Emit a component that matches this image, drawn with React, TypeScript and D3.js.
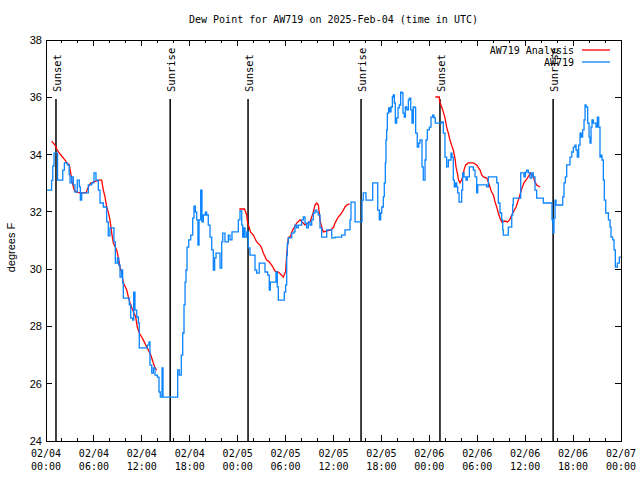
import React from "react";
import * as d3 from "d3";

// ---- data (hours since 2025-02-04 00:00 UTC, degrees F) ----
const observed: [number, number][] = [
  [0, 32.76], [0.6, 32.76], [0.7, 33.1], [0.85, 33.6], [1.0, 34.05], [1.45, 33.11], [1.97, 33.11],
  [2.1, 33.46], [2.3, 33.71], [2.67, 33.64], [2.9, 33.3], [3.01, 33.01], [3.22, 33.22], [3.42, 32.94],
  [3.63, 32.69], [3.92, 33.11], [4.17, 32.87], [4.3, 32.41], [4.47, 32.66], [5.1, 32.66], [5.3, 32.94],
  [5.72, 33.01], [6.01, 33.36], [6.26, 33.11], [6.55, 32.76], [6.76, 32.31], [7.18, 32.17], [7.6, 31.65],
  [7.8, 31.16], [8.01, 31.44], [8.35, 31.44], [8.51, 30.95], [8.68, 30.21], [8.93, 30.39], [9.1, 30.14],
  [9.27, 29.72], [9.48, 29.97], [9.6, 29.52], [9.68, 28.99], [10.18, 28.99], [10.43, 28.75], [10.61, 28.29],
  [10.86, 28.22], [10.98, 29.2], [11.14, 28.57], [11.36, 28.33], [11.56, 28.12], [11.68, 27.25], [12.68, 27.35],
  [12.9, 27.46], [13.02, 26.65], [13.24, 26.37], [13.44, 26.55], [13.65, 26.3], [13.94, 26.23], [14.15, 25.71],
  [14.31, 25.53], [14.53, 26.55], [14.65, 25.53], [16.37, 25.53], [16.49, 26.48], [16.69, 26.3], [16.94, 27.0],
  [17.12, 27.77], [17.28, 28.75], [17.41, 29.55], [17.53, 29.97], [17.66, 30.77], [17.87, 31.02], [18.12, 31.19],
  [18.37, 31.78], [18.53, 32.2], [18.7, 31.99], [18.87, 31.72], [19.03, 30.84], [19.16, 31.72], [19.37, 32.76],
  [19.53, 31.65], [19.7, 31.89], [19.95, 31.99], [20.12, 31.89], [20.32, 31.54], [20.54, 31.12], [20.75, 30.67],
  [20.95, 29.97], [21.12, 30.39], [21.29, 30.56], [21.63, 30.56], [21.79, 30.04], [22.0, 30.95], [22.13, 31.26],
  [22.41, 30.95], [22.83, 31.19], [23.04, 31.02], [23.29, 31.3], [23.88, 31.3], [24.08, 31.72], [24.29, 32.03],
  [24.51, 31.54], [24.63, 31.12], [24.79, 31.44], [24.92, 31.12], [25.13, 31.3], [25.33, 30.74], [25.54, 30.49],
  [26.17, 29.97], [26.38, 29.86], [26.7, 30.21], [27.42, 29.9], [27.76, 29.79], [27.96, 29.27], [28.09, 29.55],
  [28.8, 29.9], [28.96, 29.38], [29.09, 28.92], [29.84, 29.2], [30.01, 29.45], [30.14, 30.49], [30.22, 30.91],
  [30.34, 31.09], [30.77, 31.26], [31.05, 31.3], [31.18, 31.54], [31.39, 31.44], [31.59, 31.54], [32.02, 31.72],
  [32.22, 31.82], [32.43, 31.61], [32.64, 31.44], [32.85, 31.65], [33.06, 31.54], [33.27, 31.72], [33.47, 31.96],
  [33.68, 32.06], [33.9, 31.99], [34.1, 31.89], [34.31, 31.44], [34.52, 31.12], [35.15, 31.37], [35.78, 31.09],
  [36.19, 31.12], [37.03, 31.19], [37.44, 31.37], [38.07, 31.72], [38.19, 32.34], [38.7, 31.65], [39.57, 32.41],
  [39.73, 32.66], [40.07, 32.41], [40.91, 33.01], [41.54, 32.06], [41.74, 31.72], [41.91, 31.96], [42.04, 32.17],
  [42.24, 32.52], [42.36, 33.01], [42.49, 33.71], [42.57, 34.51], [42.66, 34.86], [42.74, 35.45], [42.91, 35.63],
  [43.08, 35.49], [43.2, 35.66], [43.37, 36.01], [43.49, 36.08], [43.62, 35.8], [43.74, 35.1], [43.91, 35.28],
  [44.08, 35.63], [44.24, 35.73], [44.41, 36.18], [44.58, 36.15], [44.7, 35.45], [44.87, 35.31], [44.99, 35.66],
  [45.17, 35.56], [45.37, 35.9], [45.49, 35.97], [45.67, 35.56], [45.83, 35.1], [45.99, 35.66], [46.21, 35.63],
  [46.29, 34.75], [46.49, 34.26], [46.67, 34.4], [46.83, 34.51], [47.08, 33.57], [47.24, 33.11], [47.46, 33.81],
  [47.58, 34.51], [47.75, 34.86], [48.0, 34.96], [48.21, 35.31], [48.42, 35.38], [48.58, 35.28], [48.75, 35.1],
  [49.55, 35.14], [49.75, 34.75], [49.96, 33.91], [50.17, 33.57], [50.38, 33.81], [50.71, 34.05], [50.84, 33.91],
  [51.0, 33.11], [51.13, 32.87], [51.3, 33.01], [51.43, 32.87], [51.55, 32.66], [51.72, 32.34], [52.05, 32.76],
  [52.17, 33.36], [52.34, 33.22], [52.59, 33.11], [52.76, 33.22], [53.01, 33.57], [53.51, 33.46], [53.72, 33.22],
  [53.93, 32.66], [54.06, 32.94], [55.18, 32.87], [55.39, 33.22], [56.44, 33.01], [56.64, 32.31], [56.85, 31.96],
  [57.06, 31.72], [57.19, 31.37], [57.26, 31.19], [57.89, 31.47], [58.32, 31.89], [58.44, 32.24], [58.51, 32.48],
  [59.44, 33.36], [59.85, 33.22], [60.02, 33.39], [60.19, 33.46], [60.39, 33.36], [60.61, 33.18], [60.82, 33.36],
  [61.02, 33.22], [61.23, 32.76], [61.44, 32.48], [62.27, 32.31], [63.36, 31.72], [63.45, 31.61], [63.52, 31.26],
  [63.61, 31.78], [63.74, 32.41], [63.86, 32.24], [64.7, 32.52], [64.86, 33.01], [65.03, 33.22], [65.2, 33.64],
  [65.61, 33.91], [65.83, 34.09], [66.03, 34.26], [66.24, 34.33], [66.37, 34.16], [66.53, 33.91], [66.7, 34.33],
  [66.87, 34.75], [67.03, 34.61], [67.2, 34.86], [67.37, 35.21], [67.5, 35.73], [67.62, 35.66], [67.83, 35.1],
  [68.0, 34.61], [68.12, 34.4], [68.25, 34.96], [68.37, 35.21], [68.53, 35.1], [68.87, 34.96], [69.04, 35.31],
  [69.21, 34.96], [69.37, 33.91], [69.5, 33.98], [69.62, 33.81], [69.79, 33.11], [69.91, 32.41], [70.09, 31.96],
  [70.42, 31.72], [70.63, 31.47], [70.75, 31.12], [70.96, 31.02], [71.13, 30.67], [71.29, 30.07], [71.54, 30.21],
  [71.79, 30.42], [72.0, 30.42],
];

const analysis1: [number, number][] = [
  [0.71, 34.47], [1.13, 34.33], [1.41, 34.16], [1.67, 34.05], [1.97, 33.95], [2.38, 33.81], [2.59, 33.71],
  [2.92, 33.64], [3.09, 33.36], [3.29, 33.01], [3.54, 32.76], [3.84, 32.69], [4.26, 32.66], [5.01, 32.66],
  [5.3, 32.87], [5.6, 33.01], [5.92, 33.04], [6.35, 33.08], [6.67, 33.11], [6.97, 33.11], [7.18, 32.76],
  [7.39, 32.52], [7.6, 32.17], [7.8, 31.99], [8.01, 31.72], [8.23, 31.26], [8.43, 30.91], [8.85, 30.67],
  [9.05, 30.42], [9.27, 30.07], [9.48, 29.86], [9.68, 29.52], [10.11, 29.27], [10.31, 29.03], [10.52, 28.82],
  [10.86, 28.57], [11.23, 28.33], [11.43, 27.98], [11.68, 27.77], [11.98, 27.63], [12.18, 27.53], [12.61, 27.28],
  [13.02, 27.07], [13.24, 26.9], [13.44, 26.72], [13.65, 26.55], [13.86, 26.48],
];
const analysis2: [number, number][] = [
  [24.2, 32.1], [24.85, 32.1], [25.13, 31.89], [25.25, 31.61], [25.46, 31.44], [25.6, 31.3], [25.96, 31.19],
  [26.38, 30.95], [26.8, 30.84], [27.0, 30.74], [27.21, 30.56], [27.63, 30.32], [27.96, 30.25], [28.26, 30.14],
  [28.47, 30.04], [28.68, 29.93], [29.09, 29.9], [29.51, 29.79], [29.72, 29.72], [30.01, 29.93], [30.14, 30.49],
  [30.34, 31.09], [30.64, 31.16], [30.77, 31.3], [31.05, 31.44], [31.39, 31.61], [31.8, 31.72], [32.43, 31.54],
  [33.06, 31.65], [33.27, 31.82], [33.47, 31.99], [33.68, 32.24], [33.9, 32.31], [34.1, 32.24], [34.22, 31.96],
  [34.31, 31.72], [34.52, 31.47], [34.73, 31.3], [35.65, 31.37], [36.02, 31.47], [36.19, 31.61], [36.4, 31.72],
  [36.6, 31.82], [36.82, 31.89], [37.03, 31.96], [37.23, 32.06], [37.44, 32.17], [37.65, 32.24], [37.86, 32.27],
  [38.02, 32.27],
];
const analysis3: [number, number][] = [
  [48.75, 36.01], [49.25, 36.01], [49.3, 35.84], [49.55, 35.66], [49.75, 35.49], [49.96, 35.28], [50.17, 34.96],
  [50.38, 34.75], [50.59, 34.51], [50.79, 34.33], [51.0, 34.16], [51.21, 33.88], [51.34, 33.57], [51.5, 33.36],
  [51.67, 33.11], [51.84, 33.01], [52.05, 33.11], [52.25, 33.29], [52.34, 33.46], [52.55, 33.64], [52.88, 33.71],
  [53.51, 33.71], [53.93, 33.64], [54.35, 33.46], [54.56, 33.29], [54.77, 33.22], [55.18, 33.18], [55.39, 33.04],
  [55.59, 32.87], [55.8, 32.69], [56.02, 32.59], [56.23, 32.34], [56.44, 32.17], [56.64, 31.96], [56.85, 31.78],
  [57.06, 31.65], [57.47, 31.68], [57.76, 31.65], [58.05, 31.72], [58.44, 31.96], [58.86, 32.17], [59.27, 32.52],
  [59.6, 32.83], [59.85, 33.01], [60.27, 33.18], [60.69, 33.36], [61.02, 33.22], [61.23, 33.04], [61.44, 32.94],
  [61.86, 32.87],
];
const analysisSegments = [analysis1, analysis2, analysis3];

const sunEventTimes = [1.25, 15.55, 25.3, 39.45, 49.33, 63.5];
const sunEventLabels = ["Sunset", "Sunrise", "Sunset", "Sunrise", "Sunset", "Sunrise"];

const xMajorTicks = [0, 6, 12, 18, 24, 30, 36, 42, 48, 54, 60, 66, 72];
const xDateLabels = ["02/04", "02/04", "02/04", "02/04", "02/05", "02/05", "02/05", "02/05", "02/06", "02/06", "02/06", "02/06", "02/07"];
const xTimeLabels = ["00:00", "06:00", "12:00", "18:00", "00:00", "06:00", "12:00", "18:00", "00:00", "06:00", "12:00", "18:00", "00:00"];
const xMinorTicks = d3.range(0, 73, 2).filter((h) => h % 6 !== 0);
const yTicks = [24, 26, 28, 30, 32, 34, 36, 38];

const title = "Dew Point for AW719 on 2025-Feb-04 (time in UTC)";
const yLabel = "degrees F";
const legendLabels = ["AW719 Analysis", "AW719"];
const RED = "#ff0000";
const BLUE = "#0a84ff";

const MONO = "'DejaVu Sans Mono', monospace";
const SANS = "'Liberation Sans', Arial, sans-serif";

export default function App() {
  const L = 46, R = 621, T = 40, B = 441;
  const x = d3.scaleLinear().domain([0, 72]).range([L, R]);
  const y = d3.scaleLinear().domain([24, 38]).range([B, T]);

  const blueLine = d3.line<[number, number]>().x((d) => x(d[0])).y((d) => y(d[1])).curve(d3.curveStepAfter);
  const redLine = d3.line<[number, number]>().x((d) => x(d[0])).y((d) => y(d[1]));

  return (
    <svg width={640} height={480} style={{ position: "absolute", left: 0, top: 0, background: "#fff" }}>
      <rect x={0} y={0} width={640} height={480} fill="#fff" />
      <text x={(L + R) / 2} y={23} textAnchor="middle" fontFamily={MONO} fontSize={10}>{title}</text>

      {/* ticks */}
      <g stroke="#000" strokeWidth={1} shapeRendering="crispEdges">
        {xMajorTicks.map((h) => (
          <g key={"M" + h}>
            <line x1={x(h)} x2={x(h)} y1={B} y2={B - 6} />
            <line x1={x(h)} x2={x(h)} y1={T} y2={T + 6} />
          </g>
        ))}
        {xMinorTicks.map((h) => (
          <g key={"m" + h}>
            <line x1={x(h)} x2={x(h)} y1={B} y2={B - 3} />
            <line x1={x(h)} x2={x(h)} y1={T} y2={T + 3} />
          </g>
        ))}
        {yTicks.map((v) => (
          <g key={"y" + v}>
            <line x1={L} x2={L + 6} y1={y(v)} y2={y(v)} />
            <line x1={R} x2={R - 6} y1={y(v)} y2={y(v)} />
          </g>
        ))}
      </g>

      {/* tick labels */}
      {xMajorTicks.map((h, i) => (
        <g key={"xl" + h} fontFamily={MONO} fontSize={10} textAnchor="middle">
          <text x={x(h)} y={457}>{xDateLabels[i]}</text>
          <text x={x(h)} y={470}>{xTimeLabels[i]}</text>
        </g>
      ))}
      {yTicks.map((v) => (
        <text key={"yl" + v} x={42} y={y(v) + 4} textAnchor="end" fontFamily={SANS} fontSize={11}>{v}</text>
      ))}
      <text transform={`translate(15,${(T + B) / 2 + 7}) rotate(-90)`} textAnchor="middle" fontFamily={SANS} fontSize={11}>{yLabel}</text>

      {/* sunrise / sunset */}
      {sunEventTimes.map((h, i) => (
        <g key={"s" + i}>
          <line x1={x(h)} x2={x(h)} y1={T + 59} y2={B} stroke="#000" strokeWidth={1.5} />
          <text transform={`translate(${x(h) + 5},${T + 52}) rotate(-90)`} textAnchor="start" fontFamily={MONO} fontSize={10.5}>
            {sunEventLabels[i]}
          </text>
        </g>
      ))}

      {/* data */}
      {analysisSegments.map((seg, i) => (
        <path key={"r" + i} d={redLine(seg) || ""} fill="none" stroke={RED} strokeWidth={1.3} />
      ))}
      <path d={blueLine(observed) || ""} fill="none" stroke={BLUE} strokeWidth={1.3} />

      {/* legend */}
      <g fontFamily={MONO} fontSize={10} textAnchor="end">
        <text x={574} y={54}>{legendLabels[0]}</text>
        <line x1={582} x2={610} y1={50} y2={50} stroke={RED} strokeWidth={1.3} />
        <text x={574} y={66}>{legendLabels[1]}</text>
        <line x1={582} x2={610} y1={62} y2={62} stroke={BLUE} strokeWidth={1.3} />
      </g>

      {/* frame */}
      <rect x={L} y={T} width={R - L} height={B - T} fill="none" stroke="#000" strokeWidth={1} shapeRendering="crispEdges" />
    </svg>
  );
}
